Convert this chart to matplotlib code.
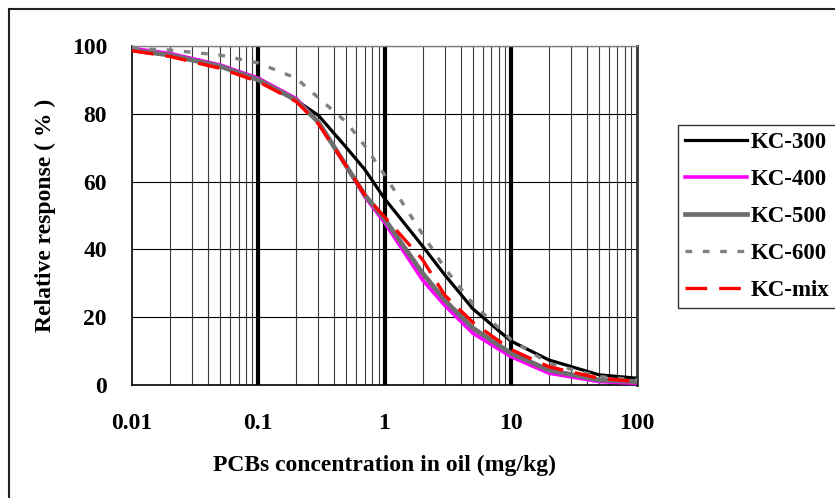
import matplotlib
matplotlib.use("Agg")
import matplotlib.pyplot as plt
from matplotlib.patches import Rectangle
from matplotlib.ticker import FixedLocator, NullFormatter

# concentration points (mg/kg)
conc = [0.01, 0.02, 0.05, 0.1, 0.2, 0.3, 0.5, 0.7, 1, 2, 3, 5, 10, 20, 50, 100]

# relative response (%)
kc300 = [99.0, 97.5, 94.0, 90.5, 84.0, 79.5, 70.0, 63.5, 55.0, 41.0, 32.5, 22.5, 13.0, 7.4, 3.0, 2.0]
kc400 = [99.3, 97.8, 94.4, 90.5, 84.5, 77.5, 64.5, 55.5, 48.0, 31.0, 23.5, 15.3, 8.4, 3.5, 1.0, 0.5]
kc500 = [98.8, 97.3, 94.0, 90.0, 84.0, 77.5, 64.5, 56.0, 49.0, 33.0, 25.0, 16.8, 9.4, 4.4, 1.5, 1.0]
kc600 = [99.3, 98.8, 97.3, 95.0, 90.5, 84.7, 77.5, 70.5, 62.0, 44.5, 34.5, 24.0, 13.5, 6.4, 2.5, 1.5]
kcmix = [98.6, 96.9, 93.4, 89.5, 83.6, 77.0, 64.5, 56.0, 49.6, 37.0, 26.5, 18.5, 10.5, 5.4, 2.0, 1.0]

x_ticks = [0.01, 0.1, 1, 10, 100]
x_labels = ["0.01", "0.1", "1", "10", "100"]
y_ticks = [0, 20, 40, 60, 80, 100]

plt.rcParams['font.family'] = ['Liberation Serif', 'DejaVu Serif']
plt.rcParams['font.weight'] = 'bold'

W, H = 835, 498
fig = plt.figure(figsize=(W / 100, H / 100), dpi=100)
ax = fig.add_axes([132 / W, 1 - 385 / H, (637 - 132) / W, (385 - 46) / H])

# outer frame (only left and top edges are inside the picture)
fig.patches.append(Rectangle((9 / W, -0.2), 1.5, 1.2 - 9 / H,
                             transform=fig.transFigure, fill=False,
                             edgecolor='#222222', linewidth=1.5))

ax.set_xscale('log')
ax.set_xlim(0.01, 100)
ax.set_ylim(0, 100)

# grid lines
minor = [m * 10.0 ** e for e in range(-2, 2) for m in range(2, 10)]
ax.xaxis.set_minor_locator(FixedLocator(minor))
ax.xaxis.set_minor_formatter(NullFormatter())
ax.grid(which='minor', axis='x', color='#3a3a3a', linewidth=0.8)
for v in [0.1, 1, 10]:
    ax.axvline(v, color='black', linewidth=3.0, zorder=1)
for v in y_ticks[1:]:
    ax.axhline(v, color='black', linewidth=0.8, zorder=1)

ax.plot(conc, kc300, color='black', linewidth=2.3, label='KC-300', zorder=3)
ax.plot(conc, kc400, color='#ff00ff', linewidth=2.6, label='KC-400', zorder=3)
ax.plot(conc, kc500, color='#6e6e6e', linewidth=3.4, label='KC-500', zorder=3)
ax.plot(conc, kc600, color='#808080', linewidth=2.4, dashes=(2.0, 3.2),
        label='KC-600', zorder=3)
ax.plot(conc, kcmix, color='#ff0000', linewidth=2.4, dashes=(6.5, 3.6),
        label='KC-mix', zorder=4)

ax.set_xticks(x_ticks)
ax.set_xticklabels(x_labels)
ax.set_yticks(y_ticks)
ax.tick_params(which='both', length=0)
ax.tick_params(axis='x', pad=20, labelsize=17)
ax.tick_params(axis='y', pad=18, labelsize=17)

for s in ['left', 'bottom']:
    ax.spines[s].set_color('black')
    ax.spines[s].set_linewidth(1.2)
ax.spines['top'].set_color('#808080')
ax.spines['top'].set_linewidth(1.0)
ax.spines['right'].set_color('#333333')
ax.spines['right'].set_linewidth(2.0)

ax.set_xlabel('PCBs concentration in oil (mg/kg)', fontsize=17,
              fontweight='bold', labelpad=15)
ax.set_ylabel('Relative response ( % )', fontsize=17, fontweight='bold',
              labelpad=11)

leg = fig.legend(loc='upper left', bbox_to_anchor=(678 / W, 1 - 125 / H),
                 fontsize=16.5, frameon=True, fancybox=False,
                 handlelength=2.7, handletextpad=0.15, labelspacing=0.7,
                 borderpad=0.3, borderaxespad=0)
leg.get_frame().set_edgecolor('black')
leg.get_frame().set_linewidth(1.0)

fig.savefig('out.png', dpi=100)
